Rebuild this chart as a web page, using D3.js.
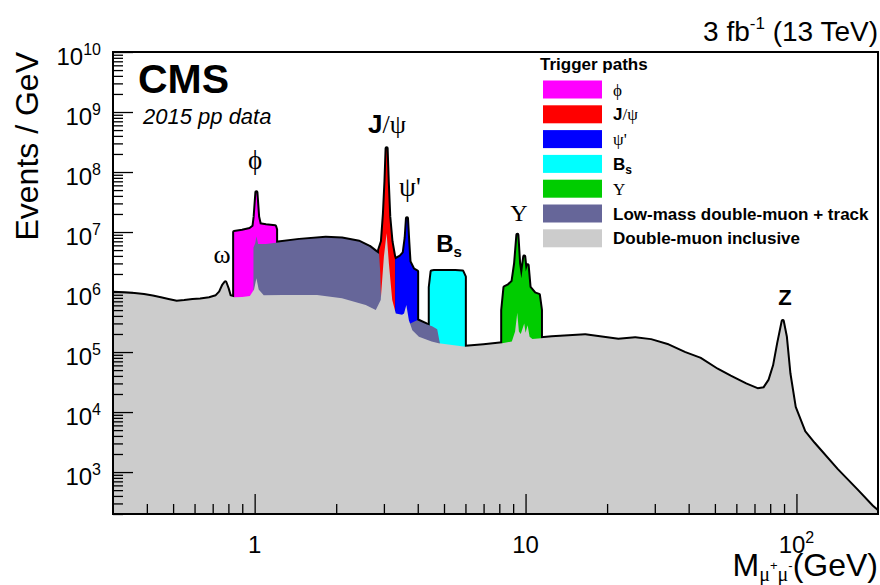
<!DOCTYPE html>
<html>
<head>
<meta charset="utf-8">
<script src="https://cdn.jsdelivr.net/npm/d3@7"></script>
<style>
  body { margin: 0; background: #fff; }
  text { font-family: "Liberation Sans", Arial, Helvetica, sans-serif; fill: #000; }
  .sym { font-family: "Liberation Serif", "DejaVu Serif", serif; }
</style>
</head>
<body>
<script>
// dimuon mass spectrum: [mass (GeV), events / GeV]
const inclusive = [
  [0.30, 9.7e5], [0.33, 9.5e5], [0.36, 9.3e5], [0.39, 8.9e5], [0.42, 8.4e5], [0.45, 7.9e5],
  [0.48, 7.4e5], [0.515, 6.9e5], [0.55, 7.1e5], [0.59, 7.4e5], [0.63, 7.5e5], [0.68, 7.9e5],
  [0.72, 8.5e5], [0.745, 1.0e6], [0.765, 1.3e6], [0.78, 1.45e6], [0.795, 1.15e6], [0.81, 8.6e5],
  [0.84, 8.2e5], [0.9, 8.3e5], [0.96, 8.6e5], [0.995, 1.1e6], [1.015, 1.7e6], [1.035, 1.1e6],
  [1.08, 8.8e5], [1.27, 8.9e5], [1.7, 8.9e5], [2.1, 7.9e5], [2.57, 6.1e5], [2.8, 5.0e5],
  [2.92, 7.4e5], [3.0, 3.9e6], [3.07, 9.5e6], [3.13, 3.0e6], [3.22, 7.4e5], [3.32, 4.4e5],
  [3.5, 4.2e5], [3.56, 4.4e5], [3.63, 6.1e5], [3.71, 3.4e5], [3.82, 2.3e5], [4.04, 1.8e5],
  [4.5, 1.5e5], [4.78, 1.4e5], [6.0, 1.22e5], [7.0, 1.3e5], [8.2, 1.4e5], [8.9, 1.5e5],
  [9.15, 2.2e5], [9.32, 4.5e5], [9.45, 2.2e5], [9.6, 2.0e5], [9.89, 3.0e5], [10.0, 2.1e5],
  [10.18, 2.8e5], [10.35, 1.8e5], [10.6, 1.65e5], [11.4, 1.7e5], [12.5, 1.76e5], [16.6, 1.9e5],
  [22, 1.6e5], [25.4, 1.7e5], [29, 1.58e5], [33.6, 1.3e5], [38.6, 9.7e4], [44, 7.8e4],
  [51, 5.1e4], [57, 3.9e4], [65, 2.9e4], [72, 2.4e4], [76, 2.5e4], [79.5, 3.4e4], [82.7, 6e4],
  [85.6, 1.4e5], [89, 3.3e5], [91.4, 1.8e5], [94.2, 4.4e4], [98.6, 1.2e4], [107, 4.7e3],
  [116, 3e3], [141, 1.1e3], [167, 5e2], [190, 2.7e2], [200, 2.2e2]
];
const phiPath = [
  [0.84, 1.0e7], [0.9, 1.05e7], [0.96, 1.12e7], [0.99, 1.25e7], [1.0, 1.8e7], [1.015, 4.6e7],
  [1.03, 1.8e7], [1.045, 1.35e7], [1.1, 1.3e7], [1.19, 1.25e7], [1.2, 1.1e7]
];
const lowMassTrack = [
  [0.99, 5.5e6], [1.005, 6.5e6], [1.015, 8.5e6], [1.03, 6.3e6], [1.1, 6.3e6], [1.2, 6.6e6],
  [1.46, 7.4e6], [1.83, 8.0e6], [2.1, 7.8e6], [2.43, 6.9e6], [2.65, 5.7e6], [2.8, 4.7e6],
  [2.88, 4.3e6], [2.91, 2e6], [2.94, 4e5], [3.3, 2.6e5], [3.55, 2.8e5], [3.63, 3.2e5],
  [3.75, 3.0e5], [3.98, 3.4e5], [4.3, 2.9e5], [4.52, 2.7e5], [4.72, 2.4e5], [4.8, 1.6e5],
  [4.85, 1.3e5]
];
const jpsiPath = [
  [2.88, 5.0e6], [2.95, 7e6], [3.0, 2e7], [3.04, 7e7], [3.07, 2.5e8], [3.1, 7e7], [3.14, 1.8e7],
  [3.2, 7e6], [3.27, 4e6], [3.3, 3.5e6]
];
const psi2sPath = [
  [3.3, 3.5e6], [3.45, 3.9e6], [3.55, 4.5e6], [3.61, 8e6], [3.65, 1.7e7], [3.69, 7e6],
  [3.73, 3.2e6], [3.85, 2.4e6], [3.98, 2.2e6]
];
const bsPath = [
  [4.43, 1.2e6], [4.5, 2.2e6], [4.6, 2.25e6], [5.5, 2.25e6], [5.85, 2.2e6], [5.97, 1.8e6]
];
const upsilonPath = [
  [8.2, 5e5], [8.36, 1.2e6], [8.65, 1.3e6], [8.95, 1.5e6], [9.15, 3e6], [9.33, 9e6], [9.47, 3e6],
  [9.65, 1.7e6], [9.89, 3.9e6], [10.02, 2.2e6], [10.18, 2.8e6], [10.35, 1.2e6], [10.8, 9.5e5],
  [11.2, 9e5], [11.4, 5e5]
];

const xMajor = [1, 10, 100];
const xMinor = [0.4, 0.5, 0.6, 0.7, 0.8, 0.9, 2, 3, 4, 5, 6, 7, 8, 9, 20, 30, 40, 50, 60, 70, 80, 90];
const yExponents = [3, 4, 5, 6, 7, 8, 9, 10];

const W = 880, H = 585;
const pLeft = 113, pRight = 878, pTop = 52, pBottom = 514;

const svg = d3.select("body").append("svg").attr("width", W).attr("height", H);

const x = d3.scaleLog().domain([0.3, 200]).range([pLeft, pRight]);
const y = d3.scaleLog().domain([200, 1e10]).range([pBottom, pTop]);

svg.append("clipPath").attr("id", "plotclip")
  .append("rect").attr("x", pLeft).attr("y", pTop).attr("width", pRight - pLeft).attr("height", pBottom - pTop);

const area = d3.area()
  .x((d) => x(d[0]))
  .y0(pBottom + 4)
  .y1((d) => y(d[1]));

// drawing order: trigger paths first, inclusive last (on top)
const layers = [
  { data: phiPath, color: "#ff00ff" },
  { data: jpsiPath, color: "#ff0000" },
  { data: psi2sPath, color: "#0000ff" },
  { data: bsPath, color: "#00ffff" },
  { data: upsilonPath, color: "#00cc00" },
  { data: lowMassTrack, color: "#666699" },
  { data: inclusive, color: "#cccccc" }
];

const g = svg.append("g").attr("clip-path", "url(#plotclip)");

// black outline: strokes under all fills, so only the outer envelope stays visible
g.append("g").selectAll("path").data(layers).enter().append("path")
  .attr("d", (d) => area(d.data))
  .attr("fill", "none")
  .attr("stroke", "#000")
  .attr("stroke-width", 4)
  .attr("stroke-linejoin", "round");

g.append("g").selectAll("path").data(layers).enter().append("path")
  .attr("d", (d) => area(d.data))
  .attr("fill", (d) => d.color);

// axes (ROOT style: ticks pointing inwards)
const yMajorVals = yExponents.map((e) => Math.pow(10, e));
const yMinorVals = [];
for (let e = 2; e < 10; e++) for (let k = 2; k <= 9; k++) if (k * Math.pow(10, e) >= 200) yMinorVals.push(k * Math.pow(10, e));

function clean(sel) {
  sel.select(".domain").remove();
  sel.selectAll(".tick line").attr("stroke", "#000").attr("stroke-width", 1.3);
}

svg.append("g").attr("transform", "translate(" + pLeft + ",0)")
  .call(d3.axisLeft(y).tickValues(yMajorVals).tickSize(-20).tickFormat(""))
  .call(clean);
svg.append("g").attr("transform", "translate(" + pLeft + ",0)")
  .call(d3.axisLeft(y).tickValues(yMinorVals).tickSize(-10).tickFormat(""))
  .call(clean);
svg.append("g").attr("transform", "translate(0," + pBottom + ")")
  .call(d3.axisBottom(x).tickValues(xMajor).tickSize(-20).tickFormat(""))
  .call(clean);
svg.append("g").attr("transform", "translate(0," + pBottom + ")")
  .call(d3.axisBottom(x).tickValues(xMinor).tickSize(-10).tickFormat(""))
  .call(clean);

svg.append("rect")
  .attr("x", pLeft).attr("y", pTop).attr("width", pRight - pLeft).attr("height", pBottom - pTop)
  .attr("fill", "none").attr("stroke", "#000").attr("stroke-width", 2);

// y tick labels 10^n
yExponents.forEach(function (e) {
  const t = svg.append("text")
    .attr("x", 101).attr("y", y(Math.pow(10, e)) + 13)
    .attr("text-anchor", "end").attr("font-size", 24);
  t.append("tspan").text("10");
  t.append("tspan").attr("font-size", 16).attr("dy", -10).text(e);
});

// x tick labels
xMajor.forEach(function (v) {
  const t = svg.append("text")
    .attr("x", x(v)).attr("y", 553)
    .attr("text-anchor", "middle").attr("font-size", 24);
  if (v === 100) {
    t.append("tspan").text("10");
    t.append("tspan").attr("font-size", 16).attr("dy", -10).text("2");
  } else {
    t.text(v);
  }
});

// axis titles
const xt = svg.append("text").attr("x", pRight).attr("y", 576).attr("text-anchor", "end").attr("font-size", 32);
xt.append("tspan").text("M");
xt.append("tspan").attr("class", "sym").attr("font-size", 20).attr("dy", 5).text("μ");
xt.append("tspan").attr("font-size", 13).attr("dy", -11).text("+");
xt.append("tspan").attr("class", "sym").attr("font-size", 20).attr("dy", 11).text("μ");
xt.append("tspan").attr("font-size", 13).attr("dy", -11).text("-");
xt.append("tspan").attr("dy", 6).text("(GeV)");

svg.append("text")
  .attr("transform", "translate(38," + pTop + ") rotate(-90)")
  .attr("text-anchor", "end").attr("font-size", 32)
  .text("Events / GeV");

// header
const lumi = svg.append("text").attr("x", pRight).attr("y", 41).attr("text-anchor", "end").attr("font-size", 28);
lumi.append("tspan").text("3 fb");
lumi.append("tspan").attr("font-size", 17).attr("dy", -12).text("-1");
lumi.append("tspan").attr("dy", 12).text(" (13 TeV)");

svg.append("text").attr("x", 138).attr("y", 93).attr("font-size", 41).attr("font-weight", "bold").text("CMS");
svg.append("text").attr("x", 143).attr("y", 124).attr("font-size", 22).attr("font-style", "italic").text("2015 pp data");

// resonance labels
function label(px, py, size) {
  return svg.append("text").attr("x", px).attr("y", py).attr("text-anchor", "middle").attr("font-size", size);
}
label(222, 263, 26).attr("class", "sym").text("ω");
label(255, 169, 27).attr("class", "sym").text("ϕ");
const jl = label(387, 133, 26);
jl.append("tspan").attr("font-weight", "bold").text("J");
jl.append("tspan").attr("class", "sym").text("/ψ");
label(410, 196, 27).attr("class", "sym").text("ψ'");
const bl = label(449, 252, 24).attr("font-weight", "bold");
bl.append("tspan").text("B");
bl.append("tspan").attr("font-size", 15).attr("dy", 5).text("s");
label(519, 221, 24).attr("class", "sym").text("Υ");
label(785, 305, 22).attr("font-weight", "bold").text("Z");

// legend
const legendTitle = "Trigger paths";
const legendLabels = [
  [["ϕ", "sym"]],
  [["J", "b"], ["/ψ", "sym"]],
  [["ψ'", "sym"]],
  [["B", "b"], ["s", "bsub"]],
  [["Υ", "sym"]],
  [["Low-mass double-muon + track", "b"]],
  [["Double-muon inclusive", "b"]]
];
const legendColors = ["#ff00ff", "#ff0000", "#0000ff", "#00ffff", "#00cc00", "#666699", "#cccccc"];

svg.append("text").attr("x", 540).attr("y", 70).attr("font-size", 17).attr("font-weight", "bold").text(legendTitle);

const entries = svg.append("g").selectAll("g").data(legendLabels).enter().append("g")
  .attr("transform", (d, i) => "translate(0," + (89.5 + i * 24.8) + ")");
entries.append("rect")
  .attr("x", 543).attr("y", -9).attr("width", 59).attr("height", 18)
  .attr("fill", (d, i) => legendColors[i]);
entries.each(function (parts) {
  const t = d3.select(this).append("text").attr("x", 613).attr("y", 6).attr("font-size", 17);
  parts.forEach(function (p) {
    const s = t.append("tspan").text(p[0]);
    if (p[1] === "sym") s.attr("class", "sym");
    if (p[1] === "b") s.attr("font-weight", "bold");
    if (p[1] === "bsub") s.attr("font-weight", "bold").attr("font-size", 12).attr("dy", 4);
  });
});
</script>
</body>
</html>
